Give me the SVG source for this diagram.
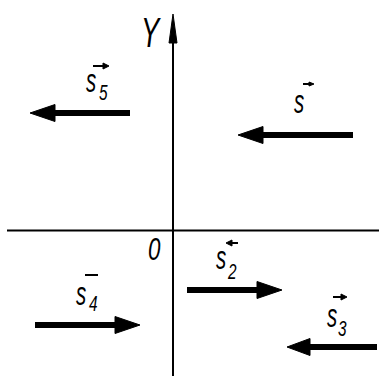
<svg xmlns="http://www.w3.org/2000/svg" width="379" height="376" viewBox="0 0 379 376">
<style>
.ax{stroke:#000;stroke-width:2;fill:none}
.vec{stroke:#000;stroke-width:6;fill:none}
.hd{fill:#000;stroke:#000;stroke-width:1;stroke-linejoin:round}
.ov{stroke:#000;stroke-width:2;fill:none}
.lb{font-family:"Liberation Sans",Arial,sans-serif;font-style:italic;fill:#000}
.s{font-size:33px}
.sub{font-size:22px}
</style>
<rect width="379" height="376" fill="#fff"/>
<g id="axes">
<line class="ax" x1="173" y1="40" x2="173" y2="376"/>
<polygon class="hd" points="173,14 169,43 177,43"/>
<line class="ax" x1="7" y1="230.5" x2="379" y2="230.5"/>
<text class="lb" transform="translate(141,47) scale(0.65,1)" font-size="42">Y</text>
<text class="lb" transform="translate(148,260) scale(0.7,1)" font-size="32">0</text>
</g>
<g id="connectors">
<g id="v5">
<line class="vec" x1="130" y1="113" x2="50" y2="113"/>
<polygon class="hd" points="30,113 55,104.5 55,121.5"/>
</g>
<g id="v1">
<line class="vec" x1="353" y1="135" x2="258" y2="135"/>
<polygon class="hd" points="238,135 263,126.5 263,143.5"/>
</g>
<g id="v4">
<line class="vec" x1="35" y1="325" x2="120" y2="325"/>
<polygon class="hd" points="140,325 115,316.5 115,333.5"/>
</g>
<g id="v2">
<line class="vec" x1="187" y1="290" x2="262" y2="290"/>
<polygon class="hd" points="282,290 257,281.5 257,298.5"/>
</g>
<g id="v3">
<line class="vec" x1="377" y1="347" x2="305" y2="347"/>
<polygon class="hd" points="287,347 310,338.5 310,355.5"/>
</g>
</g>
<g id="label-s5">
<text class="lb s" transform="translate(86,92) scale(0.62,1)">s</text>
<text class="lb sub" transform="translate(99,100) scale(0.7,1)">5</text>
<line class="ov" x1="93" y1="66" x2="104" y2="66"/>
<polygon class="hd" points="109,66 103,63 103,69"/>
</g>
<g id="label-s">
<text class="lb s" transform="translate(294,113) scale(0.62,1)">s</text>
<line class="ov" x1="303" y1="84" x2="310" y2="84"/>
<polygon class="hd" points="314,84 309,82 309,86"/>
</g>
<g id="label-s4">
<text class="lb s" transform="translate(76,305) scale(0.62,1)">s</text>
<text class="lb sub" transform="translate(89,311) scale(0.7,1)">4</text>
<line class="ov" x1="85" y1="275" x2="98" y2="275" stroke-width="2.5"/>
</g>
<g id="label-s2">
<text class="lb s" transform="translate(216,269) scale(0.62,1)">s</text>
<text class="lb sub" transform="translate(228,279) scale(0.7,1)">2</text>
<line class="ov" x1="230" y1="243" x2="238" y2="243"/>
<polygon class="hd" points="226,243 232,240 232,246"/>
</g>
<g id="label-s3">
<text class="lb s" transform="translate(327,327) scale(0.62,1)">s</text>
<text class="lb sub" transform="translate(338,336) scale(0.7,1)">3</text>
<line class="ov" x1="333" y1="297" x2="343" y2="297"/>
<polygon class="hd" points="347,297 341,294 341,300"/>
</g>
</svg>
